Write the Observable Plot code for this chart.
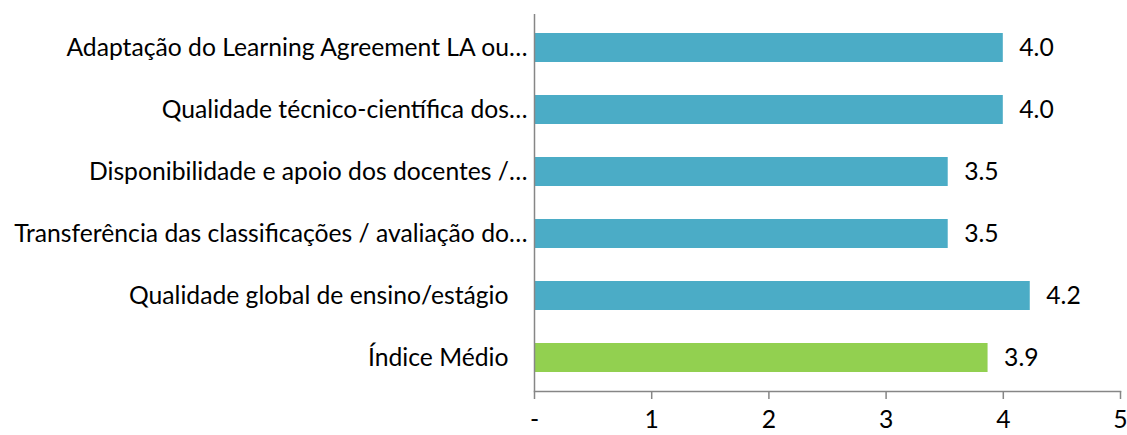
<!DOCTYPE html>
<html>
<head>
<meta charset="utf-8">
<script src="https://cdn.jsdelivr.net/npm/d3@7"></script>
<script src="https://cdn.jsdelivr.net/npm/@observablehq/plot@0.6"></script>
<style>
  html, body { margin: 0; padding: 0; background: #fff; }
</style>
</head>
<body>
<div id="chart"></div>
<script>
const categories = [
  "Adaptação do Learning Agreement LA ou…",
  "Qualidade técnico-científica dos…",
  "Disponibilidade e apoio dos docentes /…",
  "Transferência das classificações / avaliação do…",
  "Qualidade global de ensino/estágio\u00a0\u00a0\u00a0",
  "Índice Médio\u00a0\u00a0\u00a0"
];
const values = [4.0, 4.0, 3.53, 3.53, 4.23, 3.87];
const barColors = ["#4BACC6", "#4BACC6", "#4BACC6", "#4BACC6", "#4BACC6", "#92D050"];
const xTicks = [0, 1, 2, 3, 4, 5];

const data = categories.map((c, i) => ({ category: c, value: values[i], color: barColors[i] }));

const font = "Lato, 'Open Sans', sans-serif";
const fs = 24.7;

const chart = Plot.plot({
  width: 1127,
  height: 435,
  marginTop: 14,
  marginBottom: 44,
  marginLeft: 534,
  marginRight: 7,
  style: { fontFamily: font, fontSize: fs + "px", color: "#000", background: "#fff" },
  x: { domain: [0, 5], ticks: xTicks },
  y: { domain: categories, paddingInner: 0.54, paddingOuter: 0.27 },
  marks: [
    Plot.barX(data, { x: "value", y: "category", fill: "color" }),
    Plot.text(data, {
      x: "value", y: "category",
      text: d => d.value.toFixed(1),
      textAnchor: "start", dx: 16, fill: "#000", fontSize: fs
    }),
    Plot.ruleX([0], { stroke: "#868686", strokeWidth: 1.5 }),
    Plot.frame({ anchor: "bottom", stroke: "#868686", strokeWidth: 1.5 }),
    Plot.axisX({
      ticks: xTicks,
      tickFormat: d => d === 0 ? "-" : String(d),
      tickSize: 8, tickPadding: 11,
      stroke: "#868686", strokeWidth: 1.5, fill: "#000", fontSize: fs, label: null
    }),
    Plot.axisY({ tickSize: 0, tickPadding: 7, fill: "#000", fontSize: fs, label: null })
  ]
});

document.getElementById("chart").appendChild(chart);
</script>
</body>
</html>
